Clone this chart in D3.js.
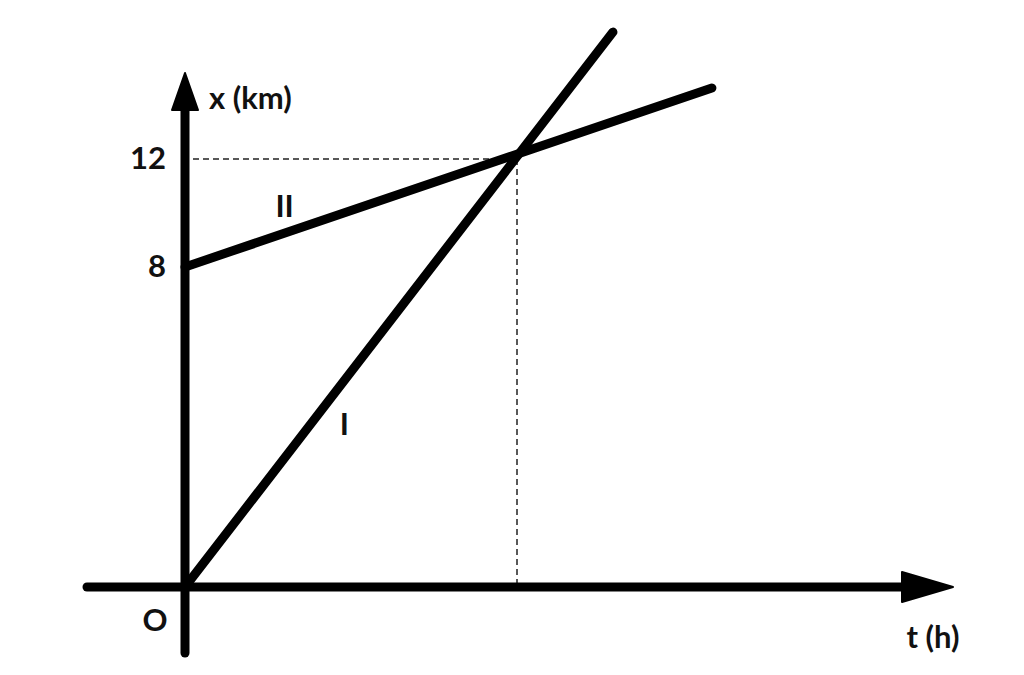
<!DOCTYPE html>
<html>
<head>
<meta charset="utf-8" />
<title></title>
<style>
html, body {
    padding: 0px;
    margin: 0px;
    background: #fff;
}
text {
    font-family: Lato, "Open Sans", sans-serif;
    font-weight: bold;
    fill: #111;
}
</style>
</head>
<body>
<div id="chart"></div>

<script src="https://cdnjs.cloudflare.com/ajax/libs/d3/7.8.5/d3.min.js"></script>
<script>
!(function(){
    "use strict"

    // y ticks shown on the x (km) axis
    var yTicks = [8, 12];
    // line I: starts at origin
    var lineI = [[0, 0], [1.289, 16.7]];
    // line II: starts at 8 km
    var lineII = [[0, 8], [1.587, 14.63]];
    // meeting point (t, x)
    var meet = [1, 12];
    // line labels
    var lineLabels = [
        {text: "I", t: 0.48, x: 4.1},
        {text: "II", t: 0.30, x: 10.3}
    ];

    var width = 1024, height = 675;
    var fs = 31;

    var svg = d3.select("#chart").append("svg")
        .attr("width", width)
        .attr("height", height);

    // schematic drawing: the 0-8 stretch is drawn longer than 8-12
    var t = d3.scaleLinear().domain([0, 1]).range([185, 517]);
    var y = d3.scaleLinear().domain([0, 8, 12]).range([587, 267, 159]);

    // dashed guides
    svg.append("line")
        .attr("x1", t(0) + 8).attr("y1", y(meet[1]))
        .attr("x2", t(meet[0])).attr("y2", y(meet[1]))
        .attr("stroke", "#222").attr("stroke-width", 1.5)
        .attr("stroke-dasharray", "6,4");
    svg.append("line")
        .attr("x1", t(meet[0])).attr("y1", y(meet[1]))
        .attr("x2", t(meet[0])).attr("y2", y(0))
        .attr("stroke", "#222").attr("stroke-width", 1.5)
        .attr("stroke-dasharray", "6,4");

    // axes
    var tMin = t.invert(87), tBase = t.invert(902), tTip = t.invert(953);
    var yMin = y.invert(653), yBase = y.invert(110), yTip = y.invert(73);

    svg.append("line")
        .attr("x1", t(tMin)).attr("y1", y(0))
        .attr("x2", t(tBase)).attr("y2", y(0))
        .attr("stroke", "#000").attr("stroke-width", 9)
        .attr("stroke-linecap", "round");
    svg.append("path")
        .attr("d", "M" + t(tBase) + "," + (y(0) - 15) +
                   "L" + t(tTip) + "," + y(0) +
                   "L" + t(tBase) + "," + (y(0) + 15) + "Z")
        .attr("fill", "#000").attr("stroke", "#000")
        .attr("stroke-width", 2).attr("stroke-linejoin", "round");

    svg.append("line")
        .attr("x1", t(0)).attr("y1", y(yMin))
        .attr("x2", t(0)).attr("y2", y(yBase))
        .attr("stroke", "#000").attr("stroke-width", 9)
        .attr("stroke-linecap", "round");
    svg.append("path")
        .attr("d", "M" + (t(0) - 13) + "," + y(yBase) +
                   "L" + t(0) + "," + y(yTip) +
                   "L" + (t(0) + 13) + "," + y(yBase) + "Z")
        .attr("fill", "#000").attr("stroke", "#000")
        .attr("stroke-width", 2).attr("stroke-linejoin", "round");

    // tick labels via axis
    var yAxis = d3.axisLeft(y).tickValues(yTicks).tickSize(0).tickPadding(19);
    var gy = svg.append("g")
        .attr("transform", "translate(" + t(0) + ",0)")
        .call(yAxis);
    gy.select(".domain").remove();
    gy.selectAll("text")
        .attr("font-size", fs)
        .attr("font-family", "Lato, 'Open Sans', sans-serif")
        .attr("font-weight", "bold")
        .attr("fill", "#111");

    // lines
    var line = d3.line()
        .x(function(d){ return t(d[0]); })
        .y(function(d){ return y(d[1]); });

    svg.selectAll("path.series")
        .data([lineI, lineII])
        .enter()
        .append("path")
        .attr("class", "series")
        .attr("d", line)
        .attr("fill", "none")
        .attr("stroke", "#000")
        .attr("stroke-width", 9)
        .attr("stroke-linecap", "round");

    svg.selectAll("text.lbl")
        .data(lineLabels)
        .enter()
        .append("text")
        .attr("class", "lbl")
        .attr("x", function(d){ return t(d.t); })
        .attr("y", function(d){ return y(d.x); })
        .attr("text-anchor", "middle")
        .attr("dominant-baseline", "central")
        .attr("font-size", fs)
        .text(function(d){ return d.text; });

    // axis titles
    svg.append("text")
        .attr("x", 209).attr("y", 97)
        .attr("dominant-baseline", "central")
        .attr("font-size", fs)
        .text("x (km)");
    svg.append("text")
        .attr("x", 933).attr("y", 636)
        .attr("text-anchor", "middle")
        .attr("dominant-baseline", "central")
        .attr("font-size", fs)
        .text("t (h)");
    svg.append("text")
        .attr("x", 155).attr("y", 619)
        .attr("text-anchor", "middle")
        .attr("dominant-baseline", "central")
        .attr("font-size", fs)
        .text("O");

}());
</script>
</body>
</html>
